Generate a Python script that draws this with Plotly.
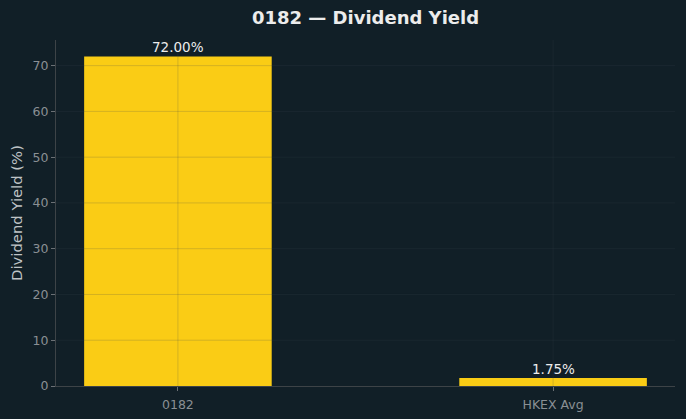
import plotly.graph_objects as go

categories = ["0182", "HKEX Avg"]
values = [72.00, 1.75]
labels = ["72.00%", "1.75%"]
yticks = [0, 10, 20, 30, 40, 50, 60, 70]

bg = "#111f27"
fig = go.Figure()
fig.add_trace(go.Bar(
    x=[0, 1], y=values, width=0.5,
    marker=dict(color="#facc15", line=dict(width=0)),
))
for i, (v, t) in enumerate(zip(values, labels)):
    fig.add_annotation(x=i, y=v, text=t, showarrow=False, yanchor="bottom", yshift=-1,
                       font=dict(family="DejaVu Sans", size=13.5, color="#ececec"))

grid = "rgba(60,70,80,0.2)"
for v in yticks[1:]:
    fig.add_shape(type="line", xref="paper", x0=0, x1=1, yref="y", y0=v, y1=v,
                  line=dict(color=grid, width=1), layer="above")
for i in range(len(categories)):
    fig.add_shape(type="line", xref="x", x0=i, x1=i, yref="paper", y0=0, y1=1,
                  line=dict(color=grid, width=1), layer="above")

fig.update_layout(
    width=686, height=419,
    margin=dict(l=56, r=11, t=40, b=33, autoexpand=False),
    paper_bgcolor=bg, plot_bgcolor=bg,
    showlegend=False,
    title=dict(text="<b>0182 — Dividend Yield</b>", xref="paper", x=0.5, xanchor="center",
               y=1 - 18/419, yanchor="middle",
               font=dict(family="DejaVu Sans", size=18, color="#ececec")),
    font=dict(family="DejaVu Sans"),
)
fig.update_xaxes(
    range=[-0.325, 1.325], tickmode="array", tickvals=[0, 1], ticktext=categories,
    showgrid=False, automargin=False,
    showline=True, linecolor="#3d4347", linewidth=1,
    ticks="outside", ticklen=4, tickcolor="#6b7075", ticklabelstandoff=3,
    tickfont=dict(size=12.5, color="#8a8f94"), layer="above traces", zeroline=False,
)
fig.update_yaxes(
    range=[0, 75.6], tickmode="array", tickvals=yticks,
    showgrid=False, automargin=False,
    showline=True, linecolor="#3d4347", linewidth=1,
    ticks="outside", ticklen=4, tickcolor="#6b7075",
    tickfont=dict(size=12.5, color="#8a8f94"), layer="above traces", zeroline=False,
    title=dict(text="Dividend Yield (%)", font=dict(size=14.8, color="#bfc3c6"), standoff=6),
)
fig.write_html("out.html")
